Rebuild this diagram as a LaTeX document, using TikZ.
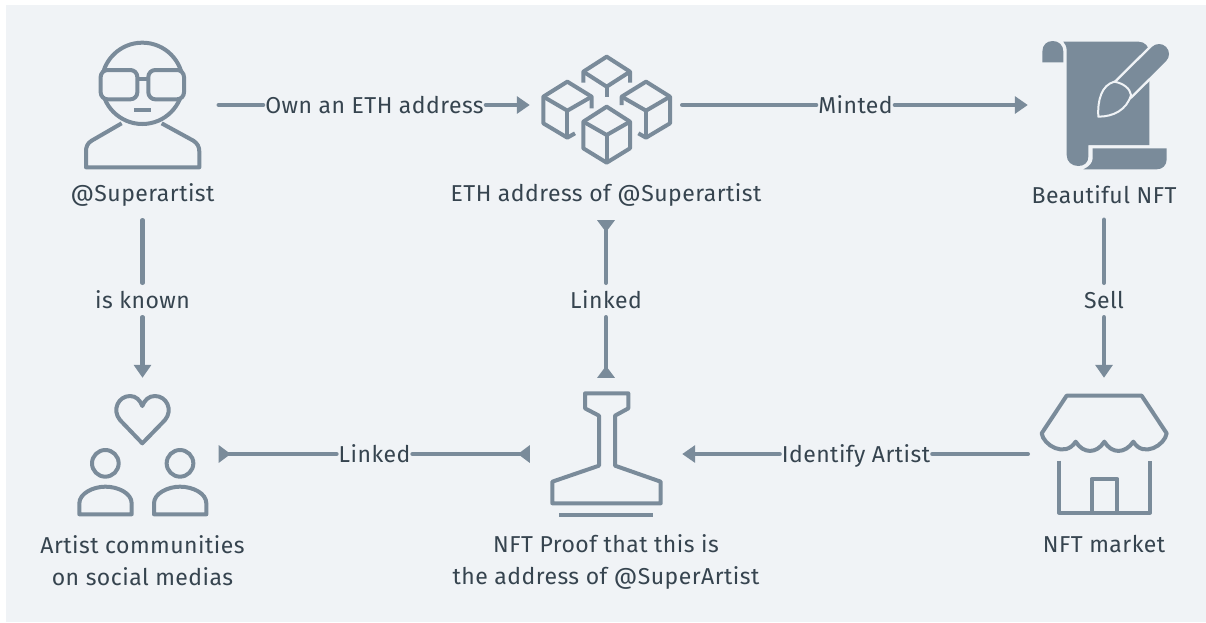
\documentclass[tikz,border=0pt]{standalone}
\usepackage{fontspec}
\setmainfont{Fira Sans}[LetterSpace=2]
\usetikzlibrary{arrows.meta}
\definecolor{panelcol}{HTML}{F0F3F6}
\definecolor{linecol}{HTML}{7A8B9A}
\definecolor{textcol}{HTML}{36444F}
\begin{document}
\begin{tikzpicture}[
		x=1pt, y=-1pt,
		iconbox/.style={rectangle, inner sep=0pt, minimum size=152pt},
		caption/.style={rectangle, inner sep=0pt, minimum height=50pt, align=center, text=textcol, font=\fontsize{23}{32}\selectfont},
		linklabel/.style={rectangle, inner xsep=2pt, inner ysep=0pt, minimum height=34pt, text height=20pt, text depth=4pt, text=textcol, font=\fontsize{23}{32}\selectfont},
		flowline/.style={draw=linecol, line width=4.4pt, line cap=round},
		flowarrow/.style={flowline, -{Triangle[width=17pt,length=13pt]}},
		flowback/.style={flowline, -{Triangle[reversed,width=17pt,length=12pt]}},
		iconline/.style={draw=linecol, line width=4pt, line join=round},
		iconfill/.style={fill=linecol, draw=none},
	]
	\useasboundingbox (0,0) rectangle (1206,622);
	\fill[white] (0,0) rectangle (1206,622);
	\fill[panelcol] (6,5) rectangle (1206,622);

	% icon boxes, captions and labels
	\node[iconbox] (artisticon) at (142.5,105) {};
	\node[iconbox] (ethicon) at (606,105) {};
	\node[iconbox] (nfticon) at (1104,105) {};
	\node[iconbox] (socialicon) at (142.5,454) {};
	\node[iconbox] (stampicon) at (606,454) {};
	\node[iconbox] (marketicon) at (1104,454) {};
	\node[caption] (artistname) at (142.5,195) {@Superartist};
	\node[caption] (ethname) at (606,195) {ETH address of @Superartist};
	\node[caption] (nftname) at (1104,194.5) {Beautiful NFT};
	\node[caption] (socialname) at (142.5,560.5) {Artist communities\\on social medias};
	\node[caption] (stampname) at (606,561.5) {NFT Proof that this is\\the address of @SuperArtist};
	\node[caption] (marketname) at (1104,543.5) {NFT market};
	\node[linklabel] (ownlabel) at (374.5,105) {Own an ETH address};
	\node[linklabel] (mintedlabel) at (855.5,105) {Minted};
	\node[linklabel] (knownlabel) at (142.5,300) {is known};
	\node[linklabel] (uplinklabel) at (606,300) {Linked};
	\node[linklabel] (selllabel) at (1104,300) {Sell};
	\node[linklabel] (sidelinklabel) at (374.5,454) {Linked};
	\node[linklabel] (identifylabel) at (856,454) {Identify Artist};

	% connectors
	\draw[flowline] (artisticon.east) -- (ownlabel.west);
	\draw[flowarrow] (ownlabel.east) -- (ethicon.west);
	\draw[flowline] (ethicon.east) -- (mintedlabel.west);
	\draw[flowarrow] (mintedlabel.east) -- (nfticon.west);
	\draw[flowline] (artistname.south) -- (knownlabel.north);
	\draw[flowarrow] (knownlabel.south) -- (socialicon.north);
	\draw[flowline] (nftname.south) -- (selllabel.north);
	\draw[flowarrow] (selllabel.south) -- (marketicon.north);
	\draw[flowback] (uplinklabel.north) -- (ethname.south);
	\draw[flowback] (uplinklabel.south) -- (stampicon.north);
	\draw[flowback] (sidelinklabel.west) -- (socialicon.east);
	\draw[flowback] (sidelinklabel.east) -- (stampicon.west);
	\draw[flowline] (marketicon.west) -- (identifylabel.east);
	\draw[flowarrow] (identifylabel.west) -- (stampicon.east);

	% person with glasses
	\begin{scope}[shift={(60,20)}, scale=1/3]
		\draw[iconline] (247,190) circle (122);
		\draw[iconline] (185,310) -- (95,362) .. controls (82,370) and (78,380) .. (78,395) -- (78,442) -- (418,442) -- (418,395) .. controls (418,380) and (412,370) .. (400,362) -- (305,310);
		\draw[iconline, fill=panelcol, rounded corners=7pt] (122,150) rectangle (232,238);
		\draw[iconline, fill=panelcol, rounded corners=7pt] (265,150) rectangle (372,238);
		\draw[iconline] (232,178) -- (265,178);
		\draw[iconline] (222,270) -- (272,270);
	\end{scope}

	% blocks
	\begin{scope}[shift={(520,40)}, scale=1/3]
		\draw[iconline] (190,128) -- (190,95) -- (260,50) -- (330,95) -- (330,128);
		\draw[iconline] (190,95) -- (260,140) -- (330,95);
		\draw[iconline] (260,140) -- (260,170);
		\draw[iconline] (215,205) -- (215,170) -- (142,125) -- (70,170) -- (70,250) -- (142,293) -- (165,280);
		\draw[iconline] (70,170) -- (142,212) -- (215,170);
		\draw[iconline] (142,212) -- (142,293);
		\draw[iconline] (305,195) -- (305,170) -- (378,125) -- (450,170) -- (450,250) -- (378,293) -- (355,280);
		\draw[iconline] (305,170) -- (378,212) -- (450,170);
		\draw[iconline] (378,212) -- (378,293);
		\draw[iconline] (190,245) -- (260,200) -- (330,245) -- (330,325) -- (260,368) -- (190,325) -- cycle;
		\draw[iconline] (190,245) -- (260,285) -- (330,245);
		\draw[iconline] (260,285) -- (260,368);
	\end{scope}

	% scroll with brush
	\begin{scope}[shift={(1020,30)}, scale=1/3]
		\fill[iconfill] (67,97) -- (67,65) .. controls (67,45) and (80,33) .. (98,33) .. controls (116,33) and (130,45) .. (130,65) -- (130,97) -- cycle;
		\fill[iconfill] (130,35) -- (355,35) .. controls (375,35) and (388,50) .. (388,70) -- (388,345) -- (205,345) -- (205,380) .. controls (205,398) and (192,408) .. (175,408) .. controls (155,408) and (140,395) .. (140,375) -- (140,62) .. controls (140,50) and (136,42) .. (130,35) -- cycle;
		\fill[iconfill] (218,355) -- (440,355) -- (440,388) .. controls (440,405) and (428,418) .. (410,418) -- (190,418) .. controls (208,410) and (218,398) .. (218,385) -- cycle;
		\draw[panelcol, line width=25pt, line cap=round] (310,178) -- (417,72);
		\draw[linecol, line width=20pt, line cap=round] (310,178) -- (417,72);
		\draw[iconfill, draw=panelcol, line width=2pt, line join=round] (235,260) .. controls (232,210) and (245,165) .. (283,155) .. controls (310,160) and (330,175) .. (333,195) .. controls (320,240) and (280,260) .. (235,260) -- cycle;
	\end{scope}

	% heart and two people
	\begin{scope}[shift={(60,380)}, scale=1/3]
		\draw[iconline] (247,190) -- (180,120) .. controls (155,90) and (175,48) .. (210,48) .. controls (228,48) and (240,60) .. (247,78) .. controls (254,60) and (266,48) .. (285,48) .. controls (320,48) and (340,90) .. (315,120) -- cycle;
		\draw[iconline] (136,250) circle (40);
		\draw[iconline] (360,250) circle (40);
		\draw[iconline] (58,403) -- (58,370) .. controls (58,340) and (100,320) .. (136,320) .. controls (175,320) and (215,340) .. (215,370) -- (215,403) -- cycle;
		\draw[iconline] (282,403) -- (282,370) .. controls (282,340) and (324,320) .. (360,320) .. controls (399,320) and (439,340) .. (439,370) -- (439,403) -- cycle;
	\end{scope}

	% stamp
	\begin{scope}[shift={(510,350)}, scale=1/3]
		\draw[iconline] (225,130) -- (355,130) -- (355,175) -- (315,197) -- (315,347) -- (452,395) -- (452,460) -- (127,460) -- (127,395) -- (267,347) -- (267,197) -- (225,175) -- cycle;
		\draw[iconline] (148,495) -- (430,495);
	\end{scope}

	% shop
	\begin{scope}[shift={(1020,380)}, scale=1/3]
		\draw[iconline] (65,160) -- (140,47) -- (365,47) -- (440,160) .. controls (435,195) and (370,235) .. (340,185) .. controls (315,222) and (275,222) .. (253,185) .. controls (230,222) and (190,222) .. (167,185) .. controls (135,235) and (70,195) .. (65,160) -- cycle;
		\draw[iconline] (117,242) -- (117,398) -- (390,398) -- (390,242);
		\draw[iconline] (215,398) -- (215,297) -- (292,297) -- (292,398);
	\end{scope}
\end{tikzpicture}
\end{document}
